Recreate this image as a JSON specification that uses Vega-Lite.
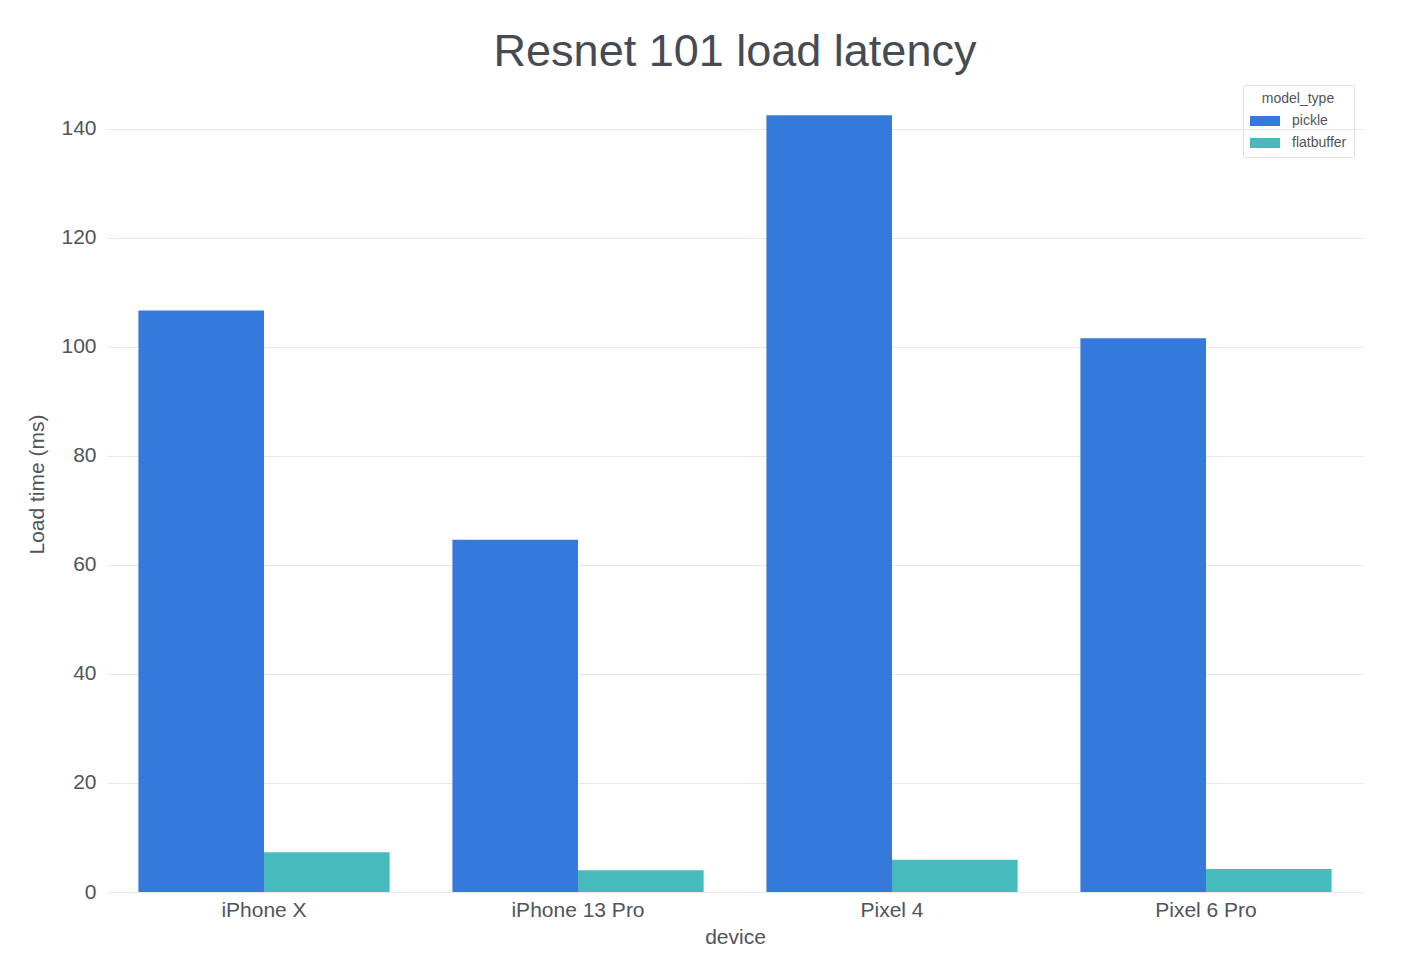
{
  "$schema": "https://vega.github.io/schema/vega-lite/v6.json",
  "width": 1256,
  "height": 816,
  "autosize": {"type": "none"},
  "padding": {"left": 107, "top": 76, "right": 49, "bottom": 69},
  "background": "white",
  "title": {"text": "Resnet 101 load latency", "fontSize": 45, "font": "Liberation Sans", "fontWeight": "normal", "color": "#464b53", "anchor": "middle", "offset": 1},
  "config": {
    "view": {"stroke": null},
    "font": "Liberation Sans"
  },
  "data": {
    "values": [
      {"device": "iPhone X", "model_type": "pickle", "load_ms": 106.7},
      {"device": "iPhone X", "model_type": "flatbuffer", "load_ms": 7.3},
      {"device": "iPhone 13 Pro", "model_type": "pickle", "load_ms": 64.6},
      {"device": "iPhone 13 Pro", "model_type": "flatbuffer", "load_ms": 4.0},
      {"device": "Pixel 4", "model_type": "pickle", "load_ms": 142.5},
      {"device": "Pixel 4", "model_type": "flatbuffer", "load_ms": 5.9},
      {"device": "Pixel 6 Pro", "model_type": "pickle", "load_ms": 101.6},
      {"device": "Pixel 6 Pro", "model_type": "flatbuffer", "load_ms": 4.2}
    ]
  },
  "mark": {"type": "bar"},
  "encoding": {
    "x": {
      "field": "device", "type": "nominal",
      "sort": ["iPhone X", "iPhone 13 Pro", "Pixel 4", "Pixel 6 Pro"],
      "scale": {"paddingInner": 0.2, "paddingOuter": 0.1},
      "axis": {
        "title": "device", "titleFontSize": 21, "titleFontWeight": "normal", "titleColor": "#50545c", "titlePadding": 6,
        "labelAngle": 0, "labelFontSize": 21, "labelColor": "#50545c", "labelPadding": 7,
        "domain": false, "ticks": false, "grid": false
      }
    },
    "xOffset": {"field": "model_type", "type": "nominal", "sort": ["pickle", "flatbuffer"]},
    "y": {
      "field": "load_ms", "type": "quantitative",
      "scale": {"domain": [0, 149.7], "nice": false},
      "axis": {
        "title": "Load time (ms)", "titleFontSize": 21, "titleFontWeight": "normal", "titleColor": "#50545c", "titlePadding": 13,
        "values": [0, 20, 40, 60, 80, 100, 120, 140],
        "labelFontSize": 21, "labelColor": "#50545c", "labelPadding": 11,
        "domain": false, "ticks": false,
        "grid": true, "gridColor": "#e8e8e8", "gridWidth": 1
      }
    },
    "color": {
      "field": "model_type", "type": "nominal",
      "scale": {"domain": ["pickle", "flatbuffer"], "range": ["#357ADA", "#47BBBB"]},
      "legend": {
        "title": "model_type", "orient": "none", "legendX": 1136, "legendY": 9,
        "titleFontSize": 14, "titleFontWeight": "normal", "titleColor": "#50545c", "titleAnchor": "middle",
        "labelFontSize": 14, "labelColor": "#50545c",
        "symbolType": "M-1.5,-0.5H1.5V0.5H-1.5Z", "symbolSize": 400, "symbolStrokeWidth": 0,
        "symbolOffset": 5, "labelOffset": 17, "rowPadding": 5,
        "strokeColor": "#dddddd", "padding": 7, "cornerRadius": 2
      }
    }
  }
}
